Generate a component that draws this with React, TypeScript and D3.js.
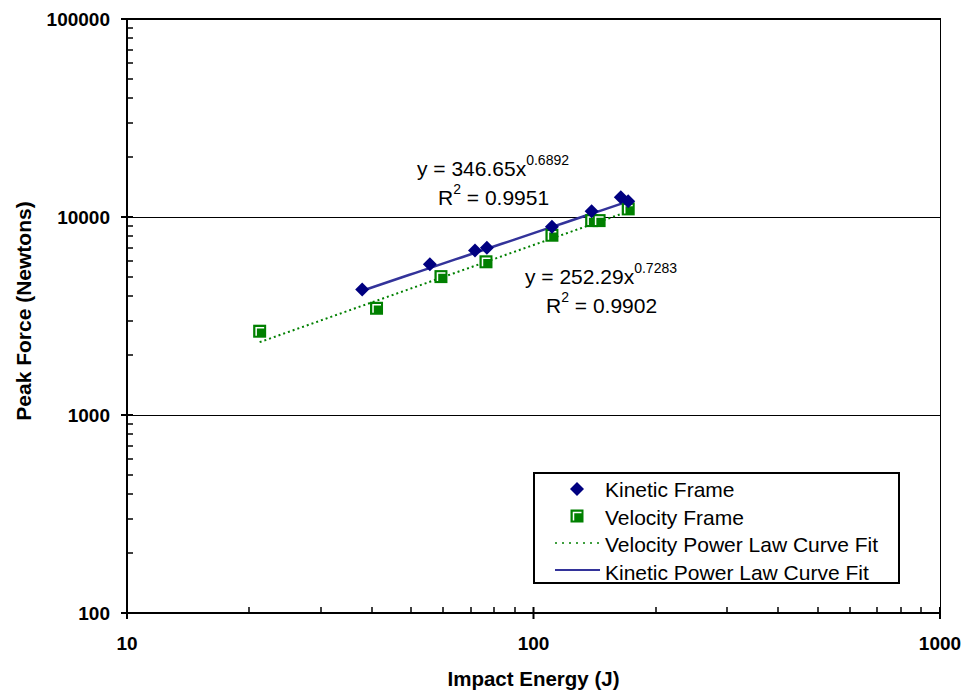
import * as React from "react";
import * as d3 from "d3";

const kineticEnergy = [37.9, 55.6, 71.8, 76.8, 111, 139, 164, 171];
const kineticForce = [4300, 5770, 6780, 7000, 8940, 10700, 12590, 12020];
const velocityEnergy = [21.2, 41.1, 59.2, 76.4, 111, 139, 145, 171];
const velocityForce = [2650, 3460, 5000, 5940, 8090, 9590, 9590, 10990];

// trendline coefficients as printed on the chart
const kineticFit = { a: 346.65, b: 0.6892, r2: "0.9951" };
const velocityFit = { a: 252.29, b: 0.7283, r2: "0.9902" };

const xTicks = [10, 100, 1000];
const yTicks = [100, 1000, 10000, 100000];

const legendItems = [
  "Kinetic Frame",
  "Velocity Frame",
  "Velocity Power Law Curve Fit",
  "Kinetic Power Law Curve Fit",
];

const W = 968;
const H = 695;
const margin = { top: 19, right: 28, bottom: 82, left: 127 };
const FONT = "'Liberation Sans', Arial, sans-serif";

export default function App() {
  const ref = React.useRef<SVGSVGElement>(null);

  React.useEffect(() => {
    const svg = d3.select(ref.current);
    svg.selectAll("*").remove();

    const x = d3
      .scaleLog()
      .domain([10, 1000])
      .range([margin.left, W - margin.right]);
    const y = d3
      .scaleLog()
      .domain([100, 100000])
      .range([H - margin.bottom, margin.top]);

    const [x0, x1] = x.range();
    const [y0, y1] = y.range();

    // gridlines
    svg
      .append("g")
      .attr("shape-rendering", "crispEdges")
      .selectAll("line")
      .data([1000, 10000])
      .join("line")
      .attr("x1", x0)
      .attr("x2", x1)
      .attr("y1", (d) => Math.round(y(d)) + 0.5)
      .attr("y2", (d) => Math.round(y(d)) + 0.5)
      .attr("stroke", "#000")
      .attr("stroke-width", 1);

    // right border
    svg
      .append("line")
      .attr("x1", x1 + 0.5)
      .attr("x2", x1 + 0.5)
      .attr("y1", y0)
      .attr("y2", y1)
      .attr("stroke", "#000")
      .attr("stroke-width", 1);

    const frame = svg.append("g").attr("stroke", "#000").attr("stroke-width", 2);
    frame.append("line").attr("x1", x0).attr("x2", x1 + 1).attr("y1", y0).attr("y2", y0);
    frame.append("line").attr("x1", x0).attr("x2", x0).attr("y1", y0 + 6).attr("y2", y1 - 1);
    frame.append("line").attr("x1", x0).attr("x2", x1 + 1).attr("y1", y1).attr("y2", y1);

    // minor ticks
    const minors = (lo: number, hi: number) => {
      const out: number[] = [];
      for (let p = lo; p < hi; p *= 10) {
        for (let k = 2; k <= 9; k++) out.push(p * k);
      }
      return out;
    };

    svg
      .append("g")
      .selectAll("line")
      .data(minors(10, 1000))
      .join("line")
      .attr("x1", (d) => Math.round(x(d)))
      .attr("x2", (d) => Math.round(x(d)))
      .attr("y1", y0)
      .attr("y2", y0 - 6)
      .attr("stroke", "#000")
      .attr("stroke-width", 1.5);

    svg
      .append("g")
      .selectAll("line")
      .data(minors(100, 100000))
      .join("line")
      .attr("x1", x0)
      .attr("x2", x0 + 6)
      .attr("y1", (d) => Math.round(y(d)))
      .attr("y2", (d) => Math.round(y(d)))
      .attr("stroke", "#000")
      .attr("stroke-width", 1.5);

    // major ticks
    svg
      .append("g")
      .selectAll("line")
      .data(xTicks)
      .join("line")
      .attr("x1", (d) => x(d))
      .attr("x2", (d) => x(d))
      .attr("y1", y0 - 6)
      .attr("y2", y0 + 6)
      .attr("stroke", "#000")
      .attr("stroke-width", 2);
    svg
      .append("g")
      .selectAll("line")
      .data(yTicks)
      .join("line")
      .attr("x1", x0 - 6)
      .attr("x2", x0 + 6)
      .attr("y1", (d) => y(d))
      .attr("y2", (d) => y(d))
      .attr("stroke", "#000")
      .attr("stroke-width", 2);

    // tick labels
    svg
      .append("g")
      .selectAll("text")
      .data(xTicks)
      .join("text")
      .attr("x", (d) => x(d))
      .attr("y", y0 + 37)
      .attr("text-anchor", "middle")
      .attr("font-family", FONT)
      .attr("font-weight", "bold")
      .attr("font-size", 19)
      .text((d) => d);
    svg
      .append("g")
      .selectAll("text")
      .data(yTicks)
      .join("text")
      .attr("x", x0 - 17)
      .attr("y", (d) => y(d) + 6.5)
      .attr("text-anchor", "end")
      .attr("font-family", FONT)
      .attr("font-weight", "bold")
      .attr("font-size", 19)
      .text((d) => d);

    // axis titles
    svg
      .append("text")
      .attr("x", (x0 + x1) / 2)
      .attr("y", 686)
      .attr("text-anchor", "middle")
      .attr("font-family", FONT)
      .attr("font-weight", "bold")
      .attr("font-size", 20.5)
      .text("Impact Energy (J)");
    svg
      .append("text")
      .attr("transform", `translate(31, 311) rotate(-90)`)
      .attr("text-anchor", "middle")
      .attr("font-family", FONT)
      .attr("font-weight", "bold")
      .attr("font-size", 21)
      .text("Peak Force (Newtons)");

    // fit lines
    const fitLine = (fit: { a: number; b: number }, xs: number[]) => {
      const lo = d3.min(xs) as number;
      const hi = d3.max(xs) as number;
      const pts = d3.range(0, 41).map((i) => {
        const e = lo * Math.pow(hi / lo, i / 40);
        return [e, fit.a * Math.pow(e, fit.b)] as [number, number];
      });
      return d3
        .line<[number, number]>()
        .x((d) => x(d[0]))
        .y((d) => y(d[1]))(pts);
    };

    svg
      .append("path")
      .attr("d", fitLine(velocityFit, velocityEnergy))
      .attr("fill", "none")
      .attr("stroke", "#008000")
      .attr("stroke-width", 2)
      .attr("stroke-dasharray", "2,3");
    svg
      .append("path")
      .attr("d", fitLine(kineticFit, kineticEnergy))
      .attr("fill", "none")
      .attr("stroke", "#33339a")
      .attr("stroke-width", 2.5);

    const drawSquare = (g: any, cx: number, cy: number) => {
      g.append("rect")
        .attr("x", cx - 6.5)
        .attr("y", cy - 6.5)
        .attr("width", 13)
        .attr("height", 13)
        .attr("fill", "#008000");
      g.append("path")
        .attr("d", `M${cx - 3.5},${cy + 4.5} V${cy - 3.5} H${cx + 4.5}`)
        .attr("fill", "none")
        .attr("stroke", "#fff")
        .attr("stroke-width", 1.5);
    };
    const drawDiamond = (g: any, cx: number, cy: number) => {
      g.append("path")
        .attr(
          "d",
          `M${cx},${cy - 7} L${cx + 7},${cy} L${cx},${cy + 7} L${cx - 7},${cy} Z`
        )
        .attr("fill", "#000080");
    };

    const markers = svg.append("g");
    velocityEnergy.forEach((e, i) =>
      drawSquare(markers, x(e), y(velocityForce[i]))
    );
    kineticEnergy.forEach((e, i) =>
      drawDiamond(markers, x(e), y(kineticForce[i]))
    );

    // equations
    const eq = (
      tx: number,
      ty: number,
      fit: { a: number; b: number; r2: string }
    ) => {
      const t1 = svg
        .append("text")
        .attr("x", tx)
        .attr("y", ty)
        .attr("font-family", FONT)
        .attr("font-size", 21);
      t1.append("tspan").text(`y = ${fit.a.toFixed(2)}x`);
      t1.append("tspan")
        .attr("dy", -11)
        .attr("font-size", 14)
        .text(fit.b.toFixed(4));
      const t2 = svg
        .append("text")
        .attr("x", tx + 21)
        .attr("y", ty + 29)
        .attr("font-family", FONT)
        .attr("font-size", 21);
      t2.append("tspan").text("R");
      t2.append("tspan").attr("dy", -11).attr("font-size", 14).text("2");
      t2.append("tspan").attr("dy", 11).text(` = ${fit.r2}`);
    };
    eq(417, 176, kineticFit);
    eq(525, 284, velocityFit);

    // legend
    const lg = svg.append("g");
    lg.append("rect")
      .attr("x", 534)
      .attr("y", 473)
      .attr("width", 365)
      .attr("height", 110)
      .attr("fill", "#fff")
      .attr("stroke", "#000")
      .attr("stroke-width", 2);
    legendItems.forEach((name, i) => {
      const cy = 489 + i * 27;
      lg.append("text")
        .attr("x", 605)
        .attr("y", 497 + i * 27.5)
        .attr("font-family", FONT)
        .attr("font-size", 21)
        .text(name);
      if (i === 0) drawDiamond(lg, 577, cy);
      if (i === 1) drawSquare(lg, 577, cy);
      if (i === 2)
        lg.append("line")
          .attr("x1", 555)
          .attr("x2", 600)
          .attr("y1", cy)
          .attr("y2", cy)
          .attr("stroke", "#008000")
          .attr("stroke-width", 1.5)
          .attr("stroke-dasharray", "2,5");
      if (i === 3)
        lg.append("line")
          .attr("x1", 555)
          .attr("x2", 600)
          .attr("y1", cy)
          .attr("y2", cy)
          .attr("stroke", "#33339a")
          .attr("stroke-width", 2);
    });
  }, []);

  return (
    <svg
      ref={ref}
      width={W}
      height={H}
      style={{ position: "absolute", left: 0, top: 0, background: "#fff" }}
    />
  );
}
